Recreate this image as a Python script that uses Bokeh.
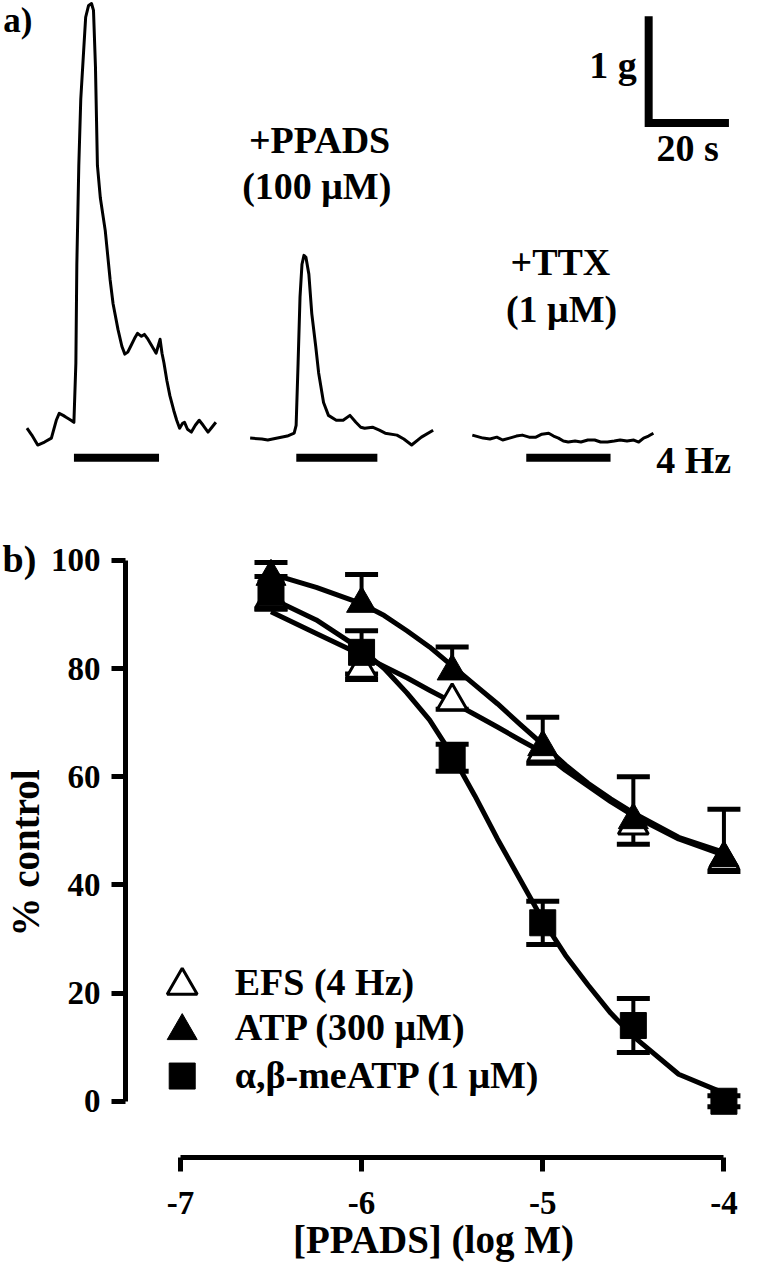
from bokeh.plotting import figure
from bokeh.models import ColumnDataSource, Whisker, TeeHead, FixedTicker, Range1d
from bokeh.core.properties import value
from bokeh.embed import file_html
from bokeh.resources import INLINE

FONT = value("Liberation Serif")

# ---------------- panel a: tension traces (time in s, tension in g) ----------------
ctrl_t = [6.59, 7.80, 9.27, 10.98, 12.68, 13.90, 14.63, 15.61, 16.34, 17.56, 18.29, 18.78, 19.02,
          19.51, 20.00, 20.73, 21.22, 21.95, 22.68, 23.17, 23.66, 24.15, 24.88, 26.10, 27.32,
          28.05, 29.27, 30.24, 30.98, 31.71, 32.44, 33.41, 34.15, 35.12, 35.85, 36.59, 37.32,
          38.05, 38.78, 39.27, 39.76, 40.24, 40.73, 41.46, 42.20, 43.17, 43.90, 44.63, 45.37,
          45.85, 46.59, 47.56, 48.54, 49.51, 50.49, 51.71, 52.68, 53.66]
ctrl_g = [0.204, 0.139, 0.046, 0.074, 0.111, 0.278, 0.343, 0.324, 0.306, 0.278, 0.259, 0.815, 1.741,
          2.667, 3.287, 3.750, 4.056, 4.167, 4.185, 4.120, 3.593, 2.667, 2.361, 2.056, 1.593,
          1.370, 1.130, 0.972, 0.898, 0.917, 0.972, 1.046, 1.093, 1.065, 1.083, 1.046, 1.000,
          0.954, 0.907, 0.972, 1.037, 0.907, 0.815, 0.648, 0.509, 0.370, 0.278, 0.204, 0.250,
          0.259, 0.194, 0.167, 0.231, 0.278, 0.231, 0.167, 0.213, 0.259]

ppads_t = [62.20, 65.12, 66.59, 69.02, 71.46, 73.17, 73.66, 74.15, 74.63, 75.12, 75.61, 76.10,
           76.83, 77.56, 78.54, 79.27, 80.49, 81.71, 83.66, 85.37, 87.07, 88.54, 89.76, 90.73,
           92.68, 94.39, 95.85, 98.78, 100.49, 102.44, 104.88, 107.80]
ppads_g = [0.111, 0.102, 0.093, 0.111, 0.130, 0.157, 0.231, 0.815, 1.435, 1.741, 1.824, 1.806,
           1.648, 1.278, 0.972, 0.722, 0.444, 0.324, 0.278, 0.278, 0.324, 0.259, 0.213, 0.204,
           0.213, 0.185, 0.157, 0.139, 0.102, 0.046, 0.120, 0.185]

ttx_t = [117.56, 120.24, 121.95, 123.66, 125.12, 126.83, 128.54, 130.00, 131.71, 133.41, 134.88,
         136.59, 137.80, 139.02, 140.24, 141.46, 143.17, 144.63, 146.34, 148.05, 149.51, 151.22,
         152.93, 154.39, 156.10, 157.80, 159.02, 160.24, 161.46, 162.68]
ttx_g = [0.139, 0.111, 0.102, 0.120, 0.093, 0.111, 0.130, 0.139, 0.120, 0.120, 0.148,
         0.157, 0.130, 0.111, 0.083, 0.074, 0.083, 0.074, 0.093, 0.093, 0.074, 0.074,
         0.083, 0.093, 0.083, 0.093, 0.074, 0.111, 0.130, 0.157]

# stimulation periods (4 Hz EFS), seconds
stim_start = [18.3, 73.7, 131.0]
stim_end = [39.5, 93.9, 152.0]

trace_labels = ["+PPADS", "(100 μM)", "+TTX", "(1 μM)"]

# ---------------- panel b: concentration-response ----------------
log_ppads = [-6.5, -6.0, -5.5, -5.0, -4.5, -4.0]
efs_mean = [93, 80, 74, 64.5, 51, 44.5]
efs_sem = [2, 2, 1.5, 2, 3.5, 2]
atp_mean = [97, 92, 79.5, 65.5, 52, 45]
atp_sem = [2.6, 5.4, 4.5, 5.5, 8, 9]
abm_mean = [94, 83, 63.5, 33, 14, 0]
abm_sem = [3, 4, 2.5, 4, 5, 1]

fit_x = [-6.5, -6.25, -6.0, -5.875, -5.75, -5.625, -5.5, -5.375, -5.25, -5.125, -5.0,
         -4.875, -4.75, -4.625, -4.5, -4.25, -4.0]
atp_fit = [97.5, 95.0, 92.0, 89.8, 87.0, 84.0, 80.5, 77.0, 73.5, 69.7, 66.0,
           62.2, 58.8, 55.9, 53.3, 48.8, 46.0]
efs_fit = [90.5, 86.5, 82.5, 80.4, 78.3, 76.0, 73.8, 71.5, 69.2, 66.8, 64.5,
           61.2, 58.3, 55.4, 52.8, 48.5, 45.5]
abm_fit = [93.0, 89.0, 83.5, 80.0, 75.5, 70.5, 64.0, 56.5, 48.5, 41.0, 33.5,
           27.0, 21.5, 16.3, 12.0, 5.0, 1.5]

legend_labels = ["EFS (4 Hz)", "ATP (300 μM)", "α,β-meATP (1 μM)"]
y_ticks = [0, 20, 40, 60, 80, 100]
x_ticks = [-7, -6, -5, -4]

W = 741
HA = 484
HB = 780

# ================= panel a =================
pa = figure(width=W, height=HA, output_backend="svg", toolbar_location=None,
            x_axis_location=None, y_axis_location=None,
            x_range=Range1d(0, 184.63), y_range=Range1d(-0.324, 4.213),
            min_border=0, min_border_left=0, min_border_right=0,
            min_border_top=0, min_border_bottom=0)
pa.grid.visible = False
pa.outline_line_color = None
pa.background_fill_color = "white"
pa.border_fill_color = "white"

for t, g in [(ctrl_t, ctrl_g), (ppads_t, ppads_g), (ttx_t, ttx_g)]:
    pa.line(t, g, line_color="black", line_width=3, line_join="round")

pa.segment(x0=stim_start, y0=[-0.074] * 3, x1=stim_end, y1=[-0.074] * 3,
           line_color="black", line_width=8)

# scale bar 1 g / 20 s
pa.line([161.5, 161.5, 181.5], [4.065, 3.065, 3.065], line_color="black",
        line_width=8, line_join="miter")

def atext(fig, x, y, txt, align="center", size="38px"):
    fig.text(x=[x], y=[y], text=[txt], text_font=FONT, text_font_style="bold",
             text_font_size=size, text_align=align, text_baseline="alphabetic",
             text_color="black")

atext(pa, 0.7, 4.025, "a)", align="left", size="35px")
atext(pa, 79.5, 2.909, trace_labels[0])
atext(pa, 78.8, 2.474, trace_labels[1])
atext(pa, 139.5, 1.762, trace_labels[2])
atext(pa, 139.8, 1.317, trace_labels[3])
atext(pa, 158.5, 3.604, "1 g", align="right")
atext(pa, 171.2, 2.826, "20 s")
atext(pa, 163.4, -0.099, "4 Hz", align="left")

# ================= panel b =================
pb = figure(width=W, height=HB, output_backend="svg", toolbar_location=None,
            x_range=Range1d(-7.303, -3.903), y_range=Range1d(-10.4, 102.2),
            min_border_left=125, min_border_right=0, min_border_top=64,
            min_border_bottom=107)
pb.grid.visible = False
pb.outline_line_color = None
pb.background_fill_color = "white"
pb.border_fill_color = "white"

# panel letter "b)" as the title, pulled to the left edge
pb.title.text = "b)"
pb.title.text_font = "Liberation Serif"
pb.title.text_font_style = "bold"
pb.title.text_font_size = "38px"
pb.title.text_color = "black"
pb.title.align = "left"
pb.title.vertical_align = "bottom"
pb.title.offset = -123
try:
    pb.title.standoff = -62
except Exception:
    pb.title.standoff = 0

for ax in (pb.xaxis[0], pb.yaxis[0]):
    ax.axis_line_width = 5
    ax.axis_line_color = "black"
    ax.major_tick_line_width = 5
    ax.major_tick_line_color = "black"
    ax.major_tick_out = 14
    ax.major_tick_in = 0
    ax.minor_tick_line_color = None
    ax.major_label_text_font = "Liberation Serif"
    ax.major_label_text_font_style = "bold"
    ax.major_label_text_font_size = "33px"
    ax.major_label_text_color = "black"
    ax.axis_label_text_font = "Liberation Serif"
    ax.axis_label_text_font_style = "bold"
    ax.axis_label_text_font_size = "39px"
    ax.axis_label_text_color = "black"

pb.yaxis[0].bounds = (0, 100)
pb.yaxis[0].ticker = FixedTicker(ticks=y_ticks)
pb.yaxis[0].major_label_standoff = 11
pb.yaxis[0].axis_label = "% control"
pb.yaxis[0].axis_label_standoff = 1

pb.xaxis[0].bounds = (-7, -4)
pb.xaxis[0].ticker = FixedTicker(ticks=x_ticks)
pb.xaxis[0].major_label_overrides = {t: str(t) for t in x_ticks}
pb.xaxis[0].major_label_standoff = 20
pb.xaxis[0].axis_label = "[PPADS] (log M)"
pb.xaxis[0].axis_label_standoff = 1

# fitted curves
for fy in (efs_fit, atp_fit, abm_fit):
    pb.line(fit_x, fy, line_color="black", line_width=5, line_join="round")

# error bars: EFS below, ATP above, alpha,beta-meATP both ways
def add_bars(mean, sem, up=True, down=True):
    upper = [m + s if up else m for m, s in zip(mean, sem)]
    lower = [m - s if down else m for m, s in zip(mean, sem)]
    src = ColumnDataSource(dict(x=log_ppads, upper=upper, lower=lower))
    pb.add_layout(Whisker(source=src, base="x", upper="upper", lower="lower",
                          line_color="black", line_width=4,
                          upper_head=TeeHead(size=33 if up else 1, line_width=5,
                                             line_color="black" if up else None),
                          lower_head=TeeHead(size=33 if down else 1, line_width=5,
                                             line_color="black" if down else None)))

add_bars(efs_mean, efs_sem, up=False, down=True)
add_bars(atp_mean, atp_sem, up=True, down=False)
add_bars(abm_mean, abm_sem, up=True, down=True)

# markers
pb.scatter(log_ppads, efs_mean, marker="triangle", size=30, fill_color="white",
           line_color="black", line_width=3)
pb.scatter(log_ppads, atp_mean, marker="triangle", size=30, fill_color="black",
           line_color="black", line_width=1)
pb.scatter(log_ppads, abm_mean, marker="square", size=26, fill_color="black",
           line_color="black", line_width=1)

# legend (drawn in plot)
leg_x = -6.99
pb.scatter([leg_x], [21.4], marker="triangle", size=30, fill_color="white",
           line_color="black", line_width=3)
pb.scatter([leg_x], [13.0], marker="triangle", size=30, fill_color="black",
           line_color="black", line_width=1)
pb.scatter([leg_x], [4.66], marker="square", size=26, fill_color="black",
           line_color="black", line_width=1)
for yy, lab in zip([22.1, 13.7, 4.8], legend_labels):
    atext(pb, -6.70, yy, lab, align="left")

# two separate roots, stacked, so that the frames are not aligned to each other
open("out.html", "w").write(file_html([pa, pb], INLINE))
